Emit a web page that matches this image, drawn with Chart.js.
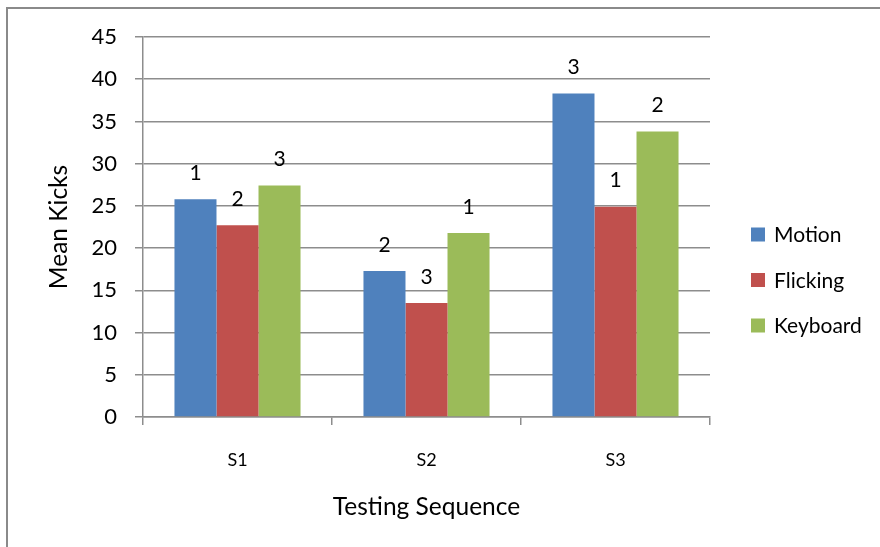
<!DOCTYPE html>
<html>
<head>
<meta charset="utf-8">
<title>Mean Kicks by Testing Sequence</title>
<script src="https://cdn.jsdelivr.net/npm/chart.js@4.4.1/dist/chart.umd.min.js"></script>
<style>
  html, body { margin: 0; padding: 0; background: #ffffff; }
  #wrap { width: 880px; height: 547px; }
</style>
</head>
<body>
<div id="wrap"><canvas id="chart" width="880" height="547"></canvas></div>
<script>
// Testing sequences and mean kicks per input method
const categories = ['S1', 'S2', 'S3'];
const motion   = [25.8, 17.3, 38.3];
const flicking = [22.7, 13.5, 24.9];
const keyboard = [27.4, 21.8, 33.8];
// Rank shown above each bar
const motionRank   = ['1', '2', '3'];
const flickingRank = ['2', '3', '1'];
const keyboardRank = ['3', '1', '2'];
const yTicks = [0, 5, 10, 15, 20, 25, 30, 35, 40, 45];

const FONT = "Lato, 'Liberation Sans', sans-serif";
const GRID = '#8d8d8d';

// Outer frame of the chart object
const framePlugin = {
  id: 'frame',
  beforeDraw(chart) {
    const ctx = chart.ctx;
    ctx.save();
    ctx.strokeStyle = '#8a8a8a';
    ctx.lineWidth = 2;
    ctx.strokeRect(7, 8, 900, 600);
    ctx.restore();
  }
};

// Rank numbers drawn above each bar
const rankPlugin = {
  id: 'ranks',
  afterDatasetsDraw(chart) {
    const ctx = chart.ctx;
    ctx.save();
    ctx.font = '21px ' + FONT;
    ctx.fillStyle = '#000000';
    ctx.textAlign = 'center';
    ctx.textBaseline = 'middle';
    chart.data.datasets.forEach((ds, i) => {
      const meta = chart.getDatasetMeta(i);
      meta.data.forEach((bar, j) => {
        ctx.fillText(ds.ranks[j], bar.x, bar.y - 26);
      });
    });
    ctx.restore();
  }
};

// Vertical legend to the right of the plot
const legendPlugin = {
  id: 'sideLegend',
  afterDraw(chart) {
    const ctx = chart.ctx;
    const x = chart.chartArea.right + 41;
    const midY = 280;
    const step = 45.5;
    const n = chart.data.datasets.length;
    ctx.save();
    ctx.font = '21px ' + FONT;
    ctx.textAlign = 'left';
    ctx.textBaseline = 'middle';
    chart.data.datasets.forEach((ds, i) => {
      const cy = midY + (i - (n - 1) / 2) * step;
      ctx.fillStyle = ds.backgroundColor;
      ctx.fillRect(x, cy - 7, 14, 14);
      ctx.fillStyle = '#000000';
      ctx.fillText(ds.label, x + 23, cy + 1);
    });
    ctx.restore();
  }
};

new Chart(document.getElementById('chart'), {
  type: 'bar',
  data: {
    labels: categories,
    datasets: [
      { label: 'Motion',   data: motion,   ranks: motionRank,   backgroundColor: '#4f81bd' },
      { label: 'Flicking', data: flicking, ranks: flickingRank, backgroundColor: '#c0504d' },
      { label: 'Keyboard', data: keyboard, ranks: keyboardRank, backgroundColor: '#9bbb59' }
    ]
  },
  options: {
    responsive: false,
    animation: false,
    devicePixelRatio: 1,
    categoryPercentage: 0.667,
    barPercentage: 1.0,
    layout: { padding: { left: 44, top: 37, right: 170, bottom: 25 } },
    plugins: {
      legend: { display: false },
      tooltip: { enabled: false }
    },
    scales: {
      x: {
        grid: {
          offset: true,
          drawOnChartArea: false,
          drawTicks: true,
          tickLength: 8,
          color: GRID,
          lineWidth: 1.5
        },
        border: { display: true, color: GRID, width: 1.5 },
        ticks: {
          padding: 24,
          color: '#000000',
          font: { family: FONT, size: 18 }
        },
        title: {
          display: true,
          text: 'Testing Sequence',
          color: '#000000',
          padding: 0,
          font: { family: FONT, size: 24.5 }
        },
        afterFit(scale) { scale.height = 105; }
      },
      y: {
        min: 0,
        max: 45,
        afterBuildTicks(scale) { scale.ticks = yTicks.map(v => ({ value: v })); },
        grid: {
          drawTicks: true,
          tickLength: 8,
          color: GRID,
          lineWidth: 1.5
        },
        border: { display: true, color: GRID, width: 1.5 },
        ticks: {
          padding: 18,
          color: '#000000',
          font: { family: FONT, size: 22 }
        },
        title: {
          display: true,
          text: 'Mean Kicks',
          color: '#000000',
          padding: 0,
          font: { family: FONT, size: 24.5 }
        },
        afterFit(scale) { scale.width = 99; }
      }
    }
  },
  plugins: [framePlugin, rankPlugin, legendPlugin]
});
</script>
</body>
</html>
